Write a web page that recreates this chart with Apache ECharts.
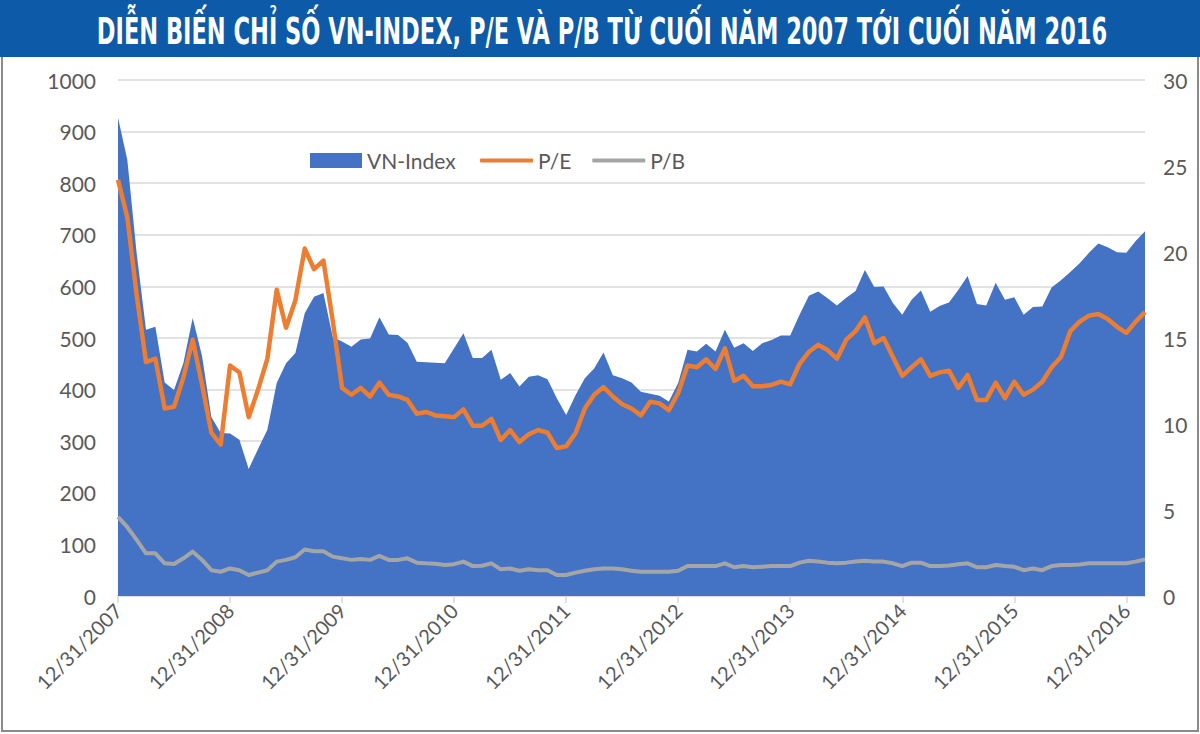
<!DOCTYPE html>
<html>
<head>
<meta charset="utf-8">
<script src="https://cdn.jsdelivr.net/npm/echarts@6/dist/echarts.min.js"></script>
<style>
html,body{margin:0;padding:0;background:#fff;}
#chart{width:1200px;height:734px;}
</style>
</head>
<body>
<div id="chart"></div>
<script>
const titleText = "DIỄN BIẾN CHỈ SỐ VN-INDEX, P/E VÀ P/B TỪ CUỐI NĂM 2007 TỚI CUỐI NĂM 2016";

const categories = [
"12/31/2007",
"1/31/2008","2/29/2008","3/31/2008","4/30/2008","5/31/2008","6/30/2008","7/31/2008","8/31/2008","9/30/2008","10/31/2008","11/30/2008","12/31/2008",
"1/31/2009","2/28/2009","3/31/2009","4/30/2009","5/31/2009","6/30/2009","7/31/2009","8/31/2009","9/30/2009","10/31/2009","11/30/2009","12/31/2009",
"1/31/2010","2/28/2010","3/31/2010","4/30/2010","5/31/2010","6/30/2010","7/31/2010","8/31/2010","9/30/2010","10/31/2010","11/30/2010","12/31/2010",
"1/31/2011","2/28/2011","3/31/2011","4/30/2011","5/31/2011","6/30/2011","7/31/2011","8/31/2011","9/30/2011","10/31/2011","11/30/2011","12/31/2011",
"1/31/2012","2/29/2012","3/31/2012","4/30/2012","5/31/2012","6/30/2012","7/31/2012","8/31/2012","9/30/2012","10/31/2012","11/30/2012","12/31/2012",
"1/31/2013","2/28/2013","3/31/2013","4/30/2013","5/31/2013","6/30/2013","7/31/2013","8/31/2013","9/30/2013","10/31/2013","11/30/2013","12/31/2013",
"1/31/2014","2/28/2014","3/31/2014","4/30/2014","5/31/2014","6/30/2014","7/31/2014","8/31/2014","9/30/2014","10/31/2014","11/30/2014","12/31/2014",
"1/31/2015","2/28/2015","3/31/2015","4/30/2015","5/31/2015","6/30/2015","7/31/2015","8/31/2015","9/30/2015","10/31/2015","11/30/2015","12/31/2015",
"1/31/2016","2/29/2016","3/31/2016","4/30/2016","5/31/2016","6/30/2016","7/31/2016","8/31/2016","9/30/2016","10/31/2016","11/30/2016","12/31/2016",
"1/31/2017","2/28/2017"
];

const yearTickLabels = ["12/31/2007","12/31/2008","12/31/2009","12/31/2010","12/31/2011","12/31/2012","12/31/2013","12/31/2014","12/31/2015","12/31/2016"];

const vnIndex = [
927,
845,664,516,522,414,399,451,539,465,347,316,315,
303,246,285,322,413,451,471,548,580,587,502,493,
483,497,499,540,507,506,491,454,453,452,451,480,
509,461,461,477,419,432,406,425,428,420,383,351,
389,422,441,472,428,422,414,396,392,388,377,413,
477,474,489,474,516,481,490,475,490,496,505,505,
545,582,590,577,563,578,591,632,599,600,568,545,
574,592,551,562,569,593,620,566,563,607,574,579,
545,560,561,598,612,628,645,665,683,676,666,665,
688,707
];

const peRatio = [
24.2,
22.0,17.5,13.6,13.8,10.9,11.0,12.7,14.9,12.3,9.5,8.8,13.4,
13.0,10.4,12.0,13.8,17.8,15.6,17.2,20.2,19.0,19.5,16.0,12.1,
11.7,12.1,11.6,12.4,11.7,11.6,11.4,10.6,10.7,10.5,10.45,10.4,
10.85,9.9,9.9,10.3,9.07,9.65,8.95,9.4,9.65,9.5,8.6,8.7,
9.46,10.9,11.7,12.15,11.6,11.15,10.9,10.5,11.3,11.2,10.8,11.8,
13.4,13.3,13.76,13.2,14.4,12.5,12.8,12.2,12.2,12.27,12.46,12.3,
13.5,14.2,14.6,14.3,13.8,14.9,15.4,16.2,14.7,15.0,13.9,12.8,
13.3,13.76,12.8,13.0,13.1,12.1,12.85,11.4,11.4,12.4,11.5,12.46,
11.7,12.0,12.46,13.3,13.9,15.4,15.95,16.3,16.4,16.1,15.65,15.3,
15.95,16.5
];

const pbRatio = [
4.6,
4.0,3.26,2.48,2.48,1.9,1.86,2.19,2.58,2.1,1.5,1.41,1.6,
1.5,1.22,1.36,1.5,2.0,2.1,2.25,2.7,2.6,2.6,2.29,2.19,
2.1,2.15,2.1,2.33,2.1,2.1,2.19,1.94,1.9,1.88,1.8,1.85,
2.0,1.74,1.76,1.9,1.55,1.6,1.47,1.55,1.5,1.5,1.22,1.22,
1.36,1.47,1.55,1.6,1.6,1.55,1.47,1.41,1.41,1.41,1.41,1.47,
1.74,1.74,1.74,1.74,1.9,1.67,1.74,1.67,1.7,1.74,1.74,1.74,
1.94,2.05,2.0,1.94,1.9,1.94,2.0,2.05,2.0,2.0,1.9,1.74,
1.94,1.94,1.74,1.74,1.77,1.85,1.9,1.67,1.67,1.8,1.74,1.7,
1.5,1.6,1.5,1.74,1.8,1.8,1.83,1.9,1.9,1.9,1.9,1.9,
2.0,2.13
];

const leftTicks = {min:0, max:1000, interval:100};
const rightTicks = {min:0, max:30, interval:5};

const titleFont = 'bold 38px "DejaVu Sans Condensed", "DejaVu Sans", sans-serif';
const mctx = document.createElement('canvas').getContext('2d');
mctx.font = titleFont;
const titleW = mctx.measureText(titleText).width;
const titleScale = 1011 / titleW;

const labelColor = '#595959';
const labelFont = 'Lato';

const chart = echarts.init(document.getElementById('chart'), null, {renderer:'svg'});
chart.setOption({
  animation:false,
  backgroundColor:'#ffffff',
  graphic:[
    {type:'rect', shape:{x:0,y:0,width:1200,height:57}, style:{fill:'#0c5aa8'}, z:0},
    {type:'polyline', shape:{points:[[2,57],[2,731],[1198,731],[1198,57]]}, style:{stroke:'#8a8a8a', lineWidth:2, fill:null}, z:0},
    {type:'text', x:602, y:31, scaleX:titleScale, scaleY:1,
     style:{text:titleText, font:titleFont, fill:'#ffffff', textAlign:'center', textVerticalAlign:'middle'}, z:10}
  ],
  legend:[
    {left:310, top:150, padding:0, itemWidth:52, itemHeight:15, icon:'rect', itemGap:20,
     data:['VN-Index'], textStyle:{color:labelColor, fontSize:21, fontFamily:labelFont}},
    {left:480, top:150, padding:0, itemWidth:53, itemHeight:4, icon:'roundRect', itemGap:21,
     data:['P/E','P/B'], textStyle:{color:labelColor, fontSize:21, fontFamily:labelFont}}
  ],
  grid:{left:118, right:55, top:80, bottom:138, containLabel:false},
  xAxis:{
    type:'category', data:categories, boundaryGap:false,
    axisLine:{show:true, lineStyle:{color:'#d9d9d9', width:1.5}},
    axisTick:{show:true, length:7, interval:function(i){return i%12===0;}, lineStyle:{color:'#d9d9d9', width:1.5}},
    axisLabel:{interval:function(i){return i%12===0;}, rotate:45, margin:11, color:labelColor, fontSize:20, fontFamily:labelFont},
    splitLine:{show:false}
  },
  yAxis:[
    {type:'value', min:leftTicks.min, max:leftTicks.max, interval:leftTicks.interval,
     axisLine:{show:false}, axisTick:{show:false},
     axisLabel:{color:labelColor, fontSize:21, fontFamily:labelFont, margin:22, formatter:function(v){return String(v);}},
     splitLine:{show:true, lineStyle:{color:'#d9d9d9', width:1.5}}},
    {type:'value', min:rightTicks.min, max:rightTicks.max, interval:rightTicks.interval, position:'right',
     axisLine:{show:false}, axisTick:{show:false},
     axisLabel:{color:labelColor, fontSize:21, fontFamily:labelFont, margin:18},
     splitLine:{show:false}}
  ],
  series:[
    {name:'VN-Index', type:'line', data:vnIndex, yAxisIndex:0, showSymbol:false, symbol:'none',
     lineStyle:{width:0, color:'#4472c4'}, itemStyle:{color:'#4472c4'},
     areaStyle:{color:'#4472c4', opacity:1}, z:1},
    {name:'P/E', type:'line', data:peRatio, yAxisIndex:1, showSymbol:false, symbol:'none',
     lineStyle:{width:4.5, color:'#ed7d31', join:'round'}, itemStyle:{color:'#ed7d31'}, z:3},
    {name:'P/B', type:'line', data:pbRatio, yAxisIndex:1, showSymbol:false, symbol:'none',
     lineStyle:{width:4, color:'#a5a5a5', join:'round'}, itemStyle:{color:'#a5a5a5'}, z:2}
  ]
});
</script>
</body>
</html>
